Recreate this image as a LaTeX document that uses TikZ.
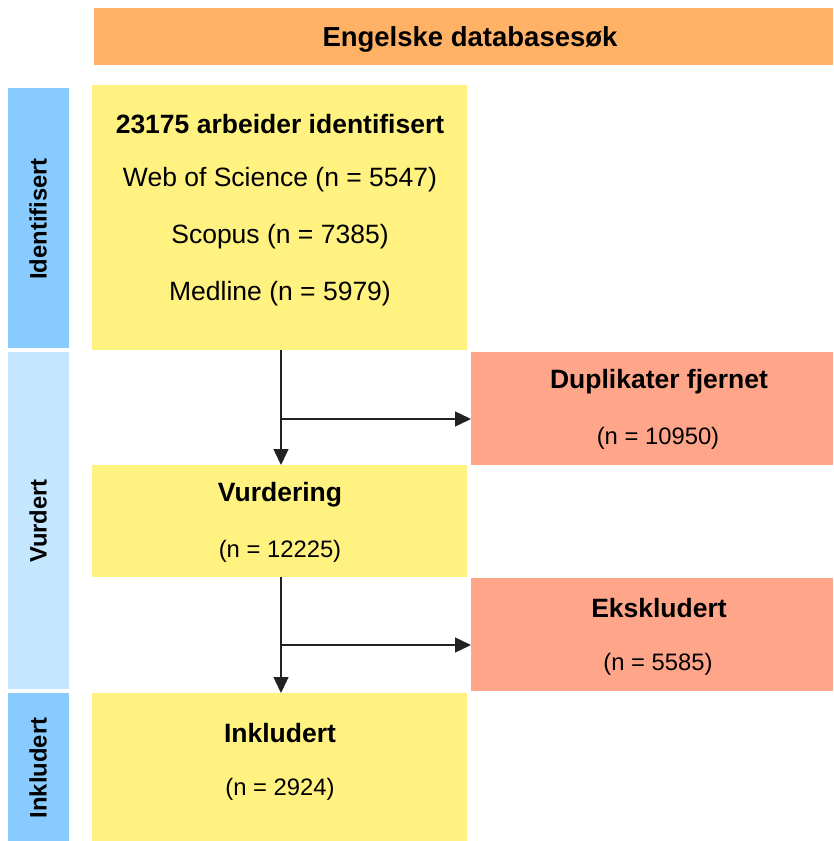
\documentclass[tikz,border=0pt]{standalone}
\usepackage{fontspec}
\setmainfont{Liberation Sans}
\usetikzlibrary{arrows.meta,calc}
\definecolor{hdr}{HTML}{FFB266}
\definecolor{ylw}{HTML}{FFF280}
\definecolor{slm}{HTML}{FFA68A}
\definecolor{blu}{HTML}{88CCFF}
\definecolor{lblu}{HTML}{C5E6FF}
\definecolor{lin}{HTML}{222222}
\begin{document}
\begin{tikzpicture}[x=1pt,y=-1pt,
  box/.style={draw=none,rectangle,anchor=north west,inner sep=0pt,outer sep=0pt},
  big/.style={font=\fontsize{26.5}{30}\selectfont},
  bigb/.style={font=\fontsize{26.5}{30}\selectfont\bfseries},
  small/.style={font=\fontsize{23.8}{28}\selectfont},
  side/.style={font=\fontsize{23.8}{28}\selectfont\bfseries,rotate=90},
  arr/.style={draw=lin,line width=1.4pt,-{Triangle[length=16pt,width=15pt]}}
]
\useasboundingbox (0,0) rectangle (833,841);
\fill[white] (0,0) rectangle (833,841);
% header
\node[box,fill=hdr,minimum width=739,minimum height=57] (hdr) at (94,8) {};
\node[font=\fontsize{27.5}{30}\selectfont\bfseries] (hdrt) at (470,39) {Engelske databasesøk};
% side bars
\node[box,fill=blu,minimum width=61,minimum height=260] (sid1) at (8,88) {};
\node[box,fill=lblu,minimum width=61,minimum height=337] (sid2) at (8,352) {};
\node[box,fill=blu,minimum width=61,minimum height=150] (sid3) at (8,693) {};
\node[side] (sid1t) at (38,219) {Identifisert};
\node[side] (sid2t) at (38,521) {Vurdert};
\node[side] (sid3t) at (38,768) {Inkludert};
% yellow boxes
\node[box,fill=ylw,minimum width=375,minimum height=265] (idb) at (92,85) {};
\node[box,fill=ylw,minimum width=375,minimum height=112] (vur) at (92,465) {};
\node[box,fill=ylw,minimum width=375,minimum height=150] (ink) at (92,693) {};
% salmon boxes
\node[box,fill=slm,minimum width=362,minimum height=113] (dup) at (471,352) {};
\node[box,fill=slm,minimum width=362,minimum height=113] (eks) at (471,578) {};
% texts
\node[bigb] (t1) at (280,124) {23175 arbeider identifisert};
\node[big] (t2) at (280,180) {Web of Science (n = 5547)};
\node[big] (t3) at (280,237) {Scopus (n = 7385)};
\node[big] (t4) at (280,294) {Medline (n = 5979)};
\node[bigb] (t5) at (280,495) {Vurdering};
\node[small] (t6) at (280,551) {(n = 12225)};
\node[bigb] (t7) at (280,733) {Inkludert};
\node[small] (t8) at (280,789) {(n = 2924)};
\node[bigb] (t9) at (659,382) {Duplikater fjernet};
\node[small] (t10) at (658,438) {(n = 10950)};
\node[bigb] (t11) at (659,608) {Ekskludert};
\node[small] (t12) at (658,664) {(n = 5585)};
% connectors
\coordinate (a1) at (281,350);
\coordinate (a2) at (281,465);
\coordinate (j1) at (281,419);
\coordinate (b1) at (281,577);
\coordinate (b2) at (281,693);
\coordinate (j2) at (281,645);
\draw[arr] (a1) -- (a2);
\draw[arr] (j1) -- (j1 -| dup.west);
\draw[arr] (b1) -- (b2);
\draw[arr] (j2) -- (j2 -| eks.west);
\end{tikzpicture}
\end{document}
